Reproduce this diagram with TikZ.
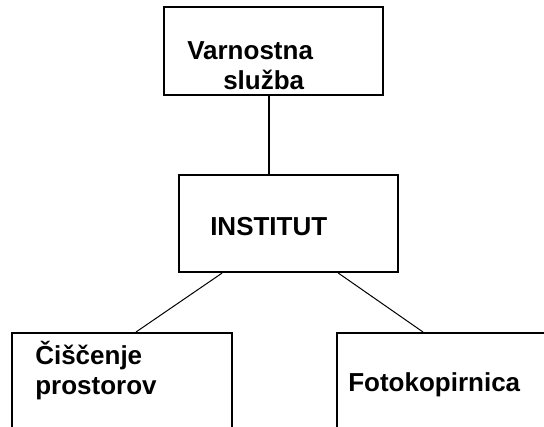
\documentclass[tikz,border=0pt]{standalone}
\usepackage{fontspec}
\setmainfont{Liberation Sans}
\usetikzlibrary{calc}
\tikzset{
	box/.style={draw, line width=1.5pt, rectangle, inner sep=0pt},
	lbl/.style={inner sep=0pt, align=left, anchor=base west, font=\fontsize{19.5}{22.5}\selectfont\bfseries}
}
\begin{document}
\begin{tikzpicture}[x=0.75pt, y=-0.75pt]

		\useasboundingbox (0,0) rectangle (544,426);
		\clip (0,0) rectangle (544,426);

		% boxes
		\node[box, minimum width=219*0.75pt, minimum height=88*0.75pt]	(sluzba)	at (273.5,51)		{};
		\node[box, minimum width=219*0.75pt, minimum height=97*0.75pt]	(institut)	at (288.5,223.5)	{};
		\node[box, minimum width=220*0.75pt, minimum height=110*0.75pt]	(ciscenje)	at (122,388)		{};
		\node[box, minimum width=280*0.75pt, minimum height=110*0.75pt]	(foto)		at (477,388)		{};

		% labels (base = last line)
		\node[lbl]	(sluzbatxt)		at (187,89)		{Varnostna\\\hspace*{27pt}služba};
		\node[lbl]	(institutxt)	at (210,235)	{INSTITUT};
		\node[lbl]	(ciscenjetxt)	at (35,394)		{Čiščenje\\prostorov};
		\node[lbl]	(fototxt)		at (348,391)	{Fotokopirnica};

		% connecting lines
		\coordinate (vline) at (269,0);
		\draw[line width=0.9pt]	(sluzba.south -| vline) -- (institut.north -| vline);
		\draw[line width=0.75pt]	($(institut.south west)!0.2!(institut.south east)$) -- ($(ciscenje.north west)+(125,0)$)
				($(institut.south west)!0.725!(institut.south east)$) -- ($(foto.north west)+(87,0)$);
	\end{tikzpicture}
\end{document}
